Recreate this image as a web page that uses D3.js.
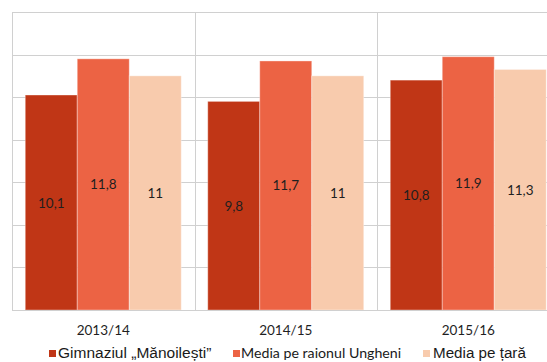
<!DOCTYPE html>
<html>
<head>
<meta charset="utf-8">
<script src="https://cdn.jsdelivr.net/npm/d3@7/dist/d3.min.js"></script>
<style>
  html, body { margin: 0; padding: 0; background: #fff; }
  svg { display: block; }
</style>
</head>
<body>
<svg id="chart" width="547" height="362"></svg>
<script>
// School years on the x axis
const years = ["2013/14", "2014/15", "2015/16"];
// Series names (legend order)
const seriesNames = ["Gimnaziul „Mănoilești”", "Media pe raionul Ungheni", "Media pe țară"];
// Average marks per series, one value per school year
const gimnaziul = [10.1, 9.8, 10.8];
const raion = [11.8, 11.7, 11.9];
const tara = [11.0, 11.0, 11.3];
// Y gridline values
const yTicks = [0, 2, 4, 6, 8, 10, 12, 14];

const seriesValues = [gimnaziul, raion, tara];
const colors = ["#C03616", "#EC6344", "#F8CBAD"];

const svg = d3.select("#chart");
const plot = { left: 12, right: 559.5, top: 12, bottom: 310 };

const y = d3.scaleLinear().domain([0, 14]).range([plot.bottom, plot.top]);
const x0 = d3.scaleBand().domain(years).range([plot.left, plot.right]).paddingInner(0).paddingOuter(0);
const x1 = d3.scaleBand().domain(d3.range(seriesNames.length)).range([0, x0.bandwidth()])
  .paddingInner(0).paddingOuter(0.255);

// horizontal gridlines
svg.append("g").selectAll("line").data(yTicks).join("line")
  .attr("x1", plot.left).attr("x2", plot.right)
  .attr("y1", d => Math.round(y(d)) + 0.5).attr("y2", d => Math.round(y(d)) + 0.5)
  .attr("stroke", "#d0d0d0").attr("stroke-width", 1);

// vertical gridlines at category boundaries
const bounds = years.map(d => x0(d)).concat([x0(years[years.length - 1]) + x0.bandwidth()]);
svg.append("g").selectAll("line").data(bounds).join("line")
  .attr("x1", d => Math.round(d) + 0.5).attr("x2", d => Math.round(d) + 0.5)
  .attr("y1", plot.top).attr("y2", plot.bottom)
  .attr("stroke", "#d0d0d0").attr("stroke-width", 1);

// bars
const groups = svg.append("g").selectAll("g").data(years).join("g")
  .attr("transform", d => `translate(${x0(d)},0)`);

const cells = groups.selectAll("g.bar").data((d, i) => seriesValues.map((vals, s) => ({ s, v: vals[i] })))
  .join("g").attr("class", "bar");

cells.append("rect")
  .attr("x", d => x1(d.s))
  .attr("width", x1.bandwidth())
  .attr("y", d => y(d.v))
  .attr("height", d => y(0) - y(d.v))
  .attr("fill", d => colors[d.s])
  .attr("stroke", "rgba(255,255,255,0.35)")
  .attr("stroke-width", 1);

cells.append("text")
  .attr("x", d => x1(d.s) + x1.bandwidth() / 2)
  .attr("y", d => (y(d.v) + y(0)) / 2 + 5)
  .attr("text-anchor", "middle")
  .attr("font-family", "Lato, 'Open Sans', sans-serif")
  .attr("font-size", 13.5)
  .attr("fill", "#1f1f1f")
  .text(d => String(d.v).replace(".", ","));

// baseline
svg.append("line")
  .attr("x1", plot.left).attr("x2", plot.right)
  .attr("y1", plot.bottom + 0.5).attr("y2", plot.bottom + 0.5)
  .attr("stroke", "#d0d0d0");

// category labels
svg.append("g").selectAll("text").data(years).join("text")
  .attr("x", d => x0(d) + x0.bandwidth() / 2)
  .attr("y", 334.5)
  .attr("text-anchor", "middle")
  .attr("font-family", "Lato, 'Open Sans', sans-serif")
  .attr("font-size", 13.5)
  .attr("fill", "#1f1f1f")
  .text(d => d);

// legend
const legendItems = [
  { name: seriesNames[0], mx: 49, tx: 58, font: "'Liberation Sans', Arial, sans-serif", size: 15.5 },
  { name: seriesNames[1], mx: 233, tx: 241, font: "Lato, 'Open Sans', sans-serif", size: 14.2 },
  { name: seriesNames[2], mx: 423, tx: 433, font: "'Liberation Sans', Arial, sans-serif", size: 15.2 }
];
const legend = svg.append("g");
legendItems.forEach((it, i) => {
  legend.append("rect")
    .attr("x", it.mx).attr("y", 350).attr("width", 7).attr("height", 7)
    .attr("fill", colors[i]);
  legend.append("text")
    .attr("x", it.tx).attr("y", 357.5)
    .attr("font-family", it.font)
    .attr("font-size", it.size)
    .attr("fill", "#1a1a1a")
    .text(it.name);
});
</script>
</body>
</html>
